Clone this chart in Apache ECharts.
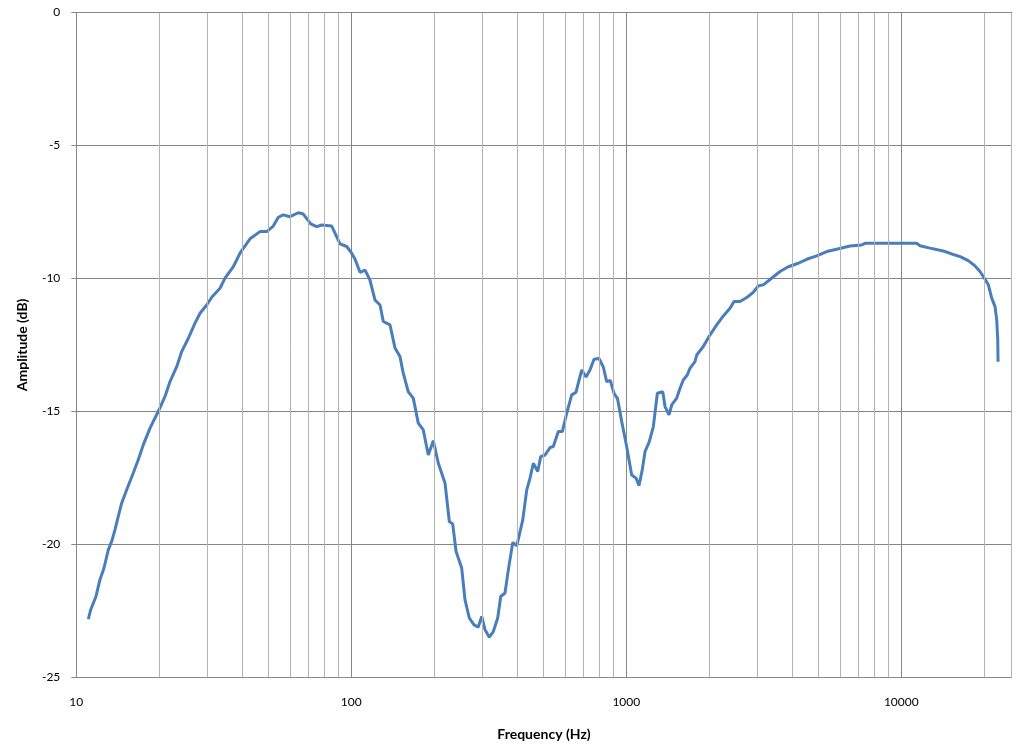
<!DOCTYPE html>
<html>
<head>
<meta charset="utf-8">
<script src="https://cdn.jsdelivr.net/npm/echarts@6/dist/echarts.min.js"></script>
<style>
html,body{margin:0;padding:0;background:#fff;}
#c{width:1035px;height:753px;}
</style>
</head>
<body>
<div id="c"></div>
<script>
var freq = [11.06,11.28,11.79,12.19,12.61,13.07,13.45,13.83,14.21,14.62,
15.25,16.11,16.80,17.52,18.54,19.99,21.02,21.92,23.18,24.17,
25.55,27.02,28.18,29.80,31.08,33.31,34.74,37.24,39.38,42.82,
46.56,49.25,52.04,54.27,56.59,59.86,64.17,66.91,71.19,74.85,
78.06,84.88,90.98,96.22,100.3,103.1,107.6,112.2,116.9,121.9,
127.2,130.7,138.3,144.2,150.3,154.5,161.1,168.0,175.2,182.7,
190.5,198.7,207.2,219.2,227.2,233.7,240.4,252.0,259.1,268.6,
279.4,289.6,298.0,306.4,317.6,328.4,340.7,349.4,362.2,372.4,
386.4,399.6,420.2,434.5,446.6,459.1,476.3,488.4,506.3,528.0,
542.7,565.9,585.2,607.2,633.1,656.4,674.8,688.5,713.7,737.9,
763.0,795.6,824.8,848.6,874.6,902.1,929.0,962.2,1003,1046,
1085,1112,1143,1170,1212,1254,1297,1357,1383,1430,
1463,1525,1568,1611,1666,1704,1777,1803,1905,2016,
2132,2253,2383,2464,2591,2741,2896,3020,3149,3331,
3622,3882,4222,4529,4925,5356,5821,6510,7178,7379,
10170,11376,11695,12715,14216,15248,16357,17521,18535,19327,
20154,20720,21320,21918,22232,22420,22476];

var amplitude = [-22.81,-22.46,-21.96,-21.33,-20.89,-20.21,-19.89,-19.45,-18.95,-18.45,
-17.95,-17.32,-16.82,-16.26,-15.63,-14.94,-14.44,-13.88,-13.32,-12.75,
-12.25,-11.68,-11.31,-11.00,-10.71,-10.37,-9.99,-9.56,-9.05,-8.51,
-8.24,-8.24,-8.03,-7.70,-7.61,-7.68,-7.53,-7.58,-7.95,-8.05,
-7.99,-8.03,-8.70,-8.80,-9.05,-9.27,-9.77,-9.69,-10.06,-10.81,
-11.00,-11.62,-11.75,-12.62,-12.94,-13.56,-14.26,-14.50,-15.44,-15.70,
-16.64,-16.10,-16.95,-17.70,-19.14,-19.23,-20.27,-20.89,-22.09,-22.77,
-23.03,-23.11,-22.71,-23.21,-23.49,-23.28,-22.77,-21.96,-21.83,-20.96,
-19.93,-20.06,-19.08,-17.95,-17.51,-16.95,-17.26,-16.70,-16.64,-16.36,
-16.32,-15.76,-15.76,-15.07,-14.38,-14.28,-13.79,-13.44,-13.71,-13.44,
-13.04,-13.01,-13.33,-13.88,-13.84,-14.32,-14.52,-15.38,-16.32,-17.39,
-17.51,-17.79,-17.20,-16.51,-16.14,-15.57,-14.32,-14.26,-14.82,-15.13,
-14.76,-14.50,-14.13,-13.82,-13.63,-13.38,-13.13,-12.88,-12.56,-12.12,
-11.75,-11.41,-11.12,-10.87,-10.87,-10.72,-10.52,-10.28,-10.24,-10.04,
-9.74,-9.56,-9.43,-9.28,-9.15,-8.99,-8.90,-8.78,-8.74,-8.68,
-8.68,-8.68,-8.77,-8.86,-8.97,-9.08,-9.18,-9.33,-9.53,-9.74,
-10.03,-10.24,-10.74,-11.06,-11.56,-12.31,-13.13];

var xMajorTicks = [10, 100, 1000, 10000];
var xMinorTicks = [20,30,40,50,60,70,80,90,200,300,400,500,600,700,800,900,
2000,3000,4000,5000,6000,7000,8000,9000,20000];
var xRange = [10, 25200];
var yTicks = [-25, -20, -15, -10, -5, 0];

var seriesData = freq.map(function (f, i) { return [f, amplitude[i]]; });
var FONT = 'Lato, "Liberation Sans", sans-serif';

var chart = echarts.init(document.getElementById('c'), null, {renderer: 'canvas'});
chart.setOption({
  animation: false,
  backgroundColor: '#ffffff',
  grid: {left: 76.3, right: 23.3, top: 12.5, bottom: 75.7, containLabel: false},
  xAxis: {
    type: 'log', logBase: 10, min: xRange[0], max: xRange[1],
    name: 'Frequency (Hz)', nameLocation: 'middle', nameGap: 50,
    nameTextStyle: {fontFamily: FONT, fontSize: 14, fontWeight: 'bold', color: '#000'},
    axisLine: {show: true, lineStyle: {color: '#868686', width: 1}},
    axisTick: {show: false},
    axisLabel: {
      margin: 19, fontFamily: FONT, fontSize: 12, color: '#000',
      showMaxLabel: false,
      formatter: function (v) {
        var r = Math.round(v);
        return xMajorTicks.indexOf(r) >= 0 ? String(r) : '';
      }
    },
    splitLine: {show: true, lineStyle: {color: ['#868686','#868686','#868686','#868686','#b3b3b3'], width: 1}}
  },
  yAxis: {
    type: 'value', min: yTicks[0], max: yTicks[yTicks.length - 1], interval: 5,
    name: 'Amplitude (dB)', nameLocation: 'middle', nameGap: 47, nameRotate: 90,
    nameTextStyle: {fontFamily: FONT, fontSize: 14, fontWeight: 'bold', color: '#000'},
    axisLine: {show: true, lineStyle: {color: '#868686', width: 1}},
    axisTick: {show: true, inside: false, length: 5, lineStyle: {color: '#868686'}},
    axisLabel: {margin: 16, fontFamily: FONT, fontSize: 12, color: '#000'},
    splitLine: {show: true, lineStyle: {color: '#868686', width: 1}}
  },
  series: [
    {
      type: 'line', data: [], z: 1, silent: true,
      markLine: {
        silent: true, symbol: 'none', animation: false,
        label: {show: false},
        lineStyle: {color: '#b3b3b3', type: 'solid', width: 1},
        emphasis: {disabled: true},
        data: xMinorTicks.map(function (v) { return {xAxis: v}; })
      }
    },
    {
      type: 'line', data: seriesData, z: 3,
      showSymbol: false, symbol: 'none', smooth: false,
      lineStyle: {color: '#4a7ebb', width: 3},
      itemStyle: {color: '#4a7ebb'}
    }
  ]
});
</script>
</body>
</html>
